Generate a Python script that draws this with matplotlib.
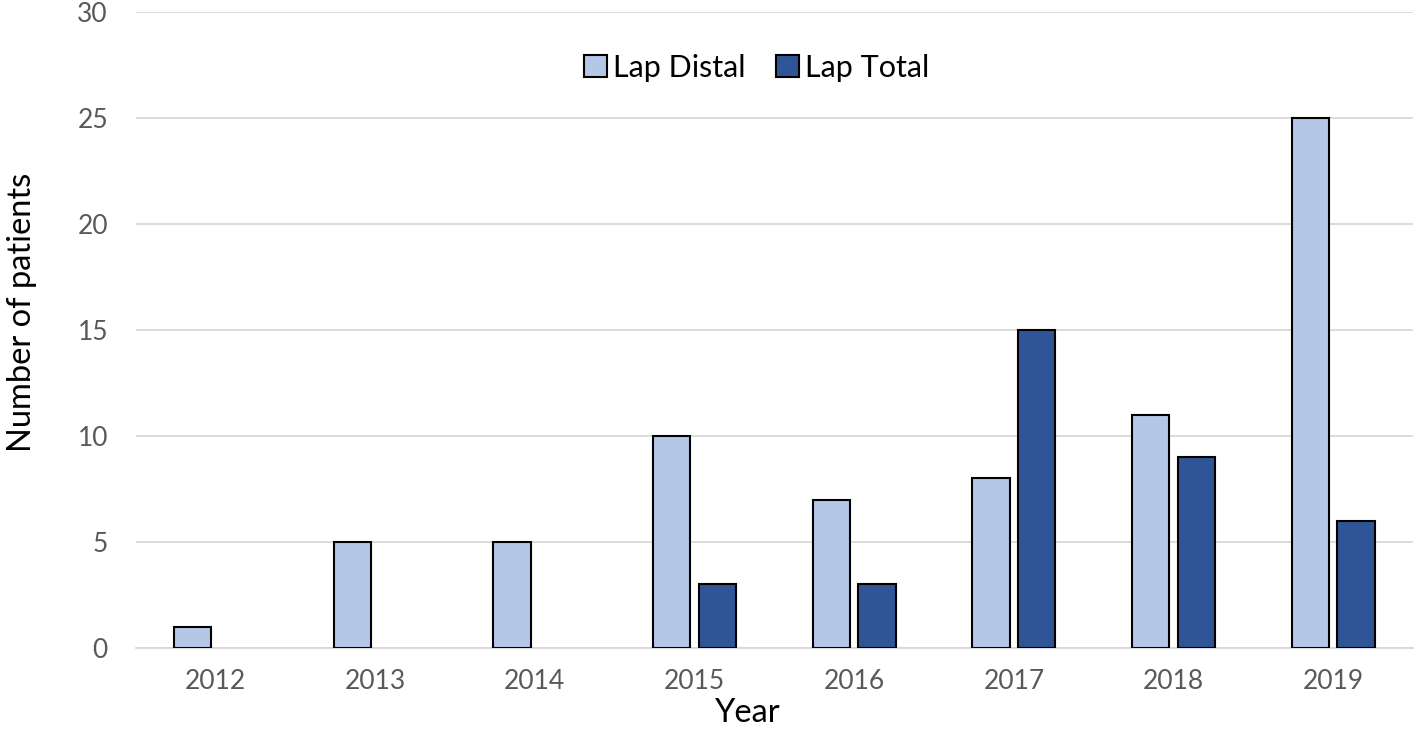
import matplotlib
matplotlib.use("Agg")
import matplotlib.pyplot as plt
import numpy as np

years = ['2012', '2013', '2014', '2015', '2016', '2017', '2018', '2019']
lap_distal = [1, 5, 5, 10, 7, 8, 11, 25]
lap_total = [0, 0, 0, 3, 3, 15, 9, 6]

plt.rcParams['font.family'] = ['Lato', 'DejaVu Sans']

fig = plt.figure(figsize=(14.18, 7.33), dpi=100)
ax = fig.add_axes([0.0957, 0.116, 0.9008, 0.8677])

x = np.arange(len(years))
w = 0.235
off = 0.143
ax.bar(x - off, lap_distal, w, color='#b4c7e7', edgecolor='black', linewidth=1.5,
       label='Lap Distal', zorder=3)
# years with no Lap Total bar are not drawn
lt = np.array(lap_total, dtype=float)
mask = lt > 0
ax.bar(x[mask] + off, lt[mask], w, color='#2f5597', edgecolor='black', linewidth=1.5,
       label='Lap Total', zorder=3)

ax.set_xlim(-0.5, len(years) - 0.5)
ax.set_ylim(0, 30)
ax.set_yticks(range(0, 31, 5))
ax.set_xticks(x)
ax.set_xticklabels(years)
ax.grid(axis='y', color='#d9d9d9', linewidth=1.3, zorder=0)
for s in ['top', 'right', 'left']:
    ax.spines[s].set_visible(False)
ax.spines['bottom'].set_color('#d9d9d9')
ax.spines['bottom'].set_linewidth(1.3)
ax.tick_params(axis='both', length=0, labelsize=19, labelcolor='#595959')
ax.tick_params(axis='x', pad=15)
ax.tick_params(axis='y', pad=20)

ax.set_xlabel('Year', fontsize=23.5)
ax.xaxis.set_label_coords(0.4795, -0.078)
ax.set_ylabel('Number of patients', fontsize=23.5)
ax.yaxis.set_label_coords(-0.077, 0.527)

ax.legend(loc='center', bbox_to_anchor=(0.486, 0.912), ncol=2, frameon=False,
          fontsize=22, handlelength=0.75, handleheight=0.75, handletextpad=0.2,
          columnspacing=1.0)

fig.savefig('out.png', dpi=100)
